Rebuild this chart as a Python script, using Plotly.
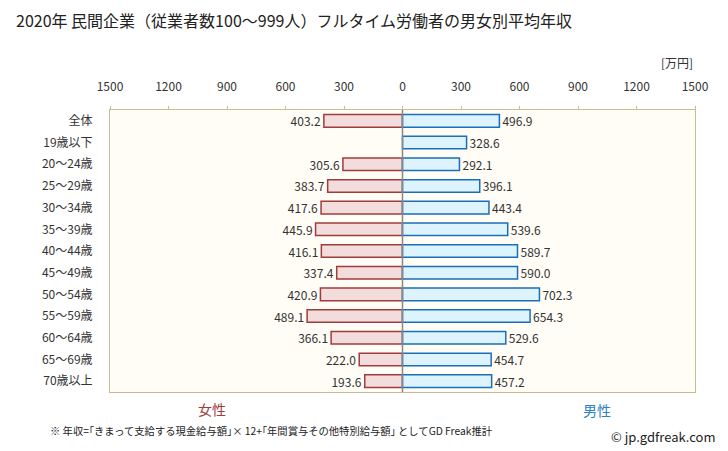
import plotly.graph_objects as go

categories = ["全体", "19歳以下", "20～24歳", "25～29歳", "30～34歳", "35～39歳", "40～44歳",
              "45～49歳", "50～54歳", "55～59歳", "60～64歳", "65～69歳", "70歳以上"]
female = [403.2, None, 305.6, 383.7, 417.6, 445.9, 416.1, 337.4, 420.9, 489.1, 366.1, 222.0, 193.6]
male = [496.9, 328.6, 292.1, 396.1, 443.4, 539.6, 589.7, 590.0, 702.3, 654.3, 529.6, 454.7, 457.2]
tick_values = [-1500, -1200, -900, -600, -300, 0, 300, 600, 900, 1200, 1500]
tick_labels = ["1500", "1200", "900", "600", "300", "0", "300", "600", "900", "1200", "1500"]

font = "Noto Sans CJK JP, sans-serif"
border = "#c8bd92"

fig = go.Figure()
fig.add_trace(go.Bar(
    y=categories, x=[-v if v is not None else None for v in female], orientation="h",
    marker=dict(color="#f2dcdc", line=dict(color="#a03c3c", width=1.5)),
    text=[f"{v:.1f}" if v is not None else "" for v in female],
    textposition="outside", constraintext="none",
    textfont=dict(size=12, color="#333333", family=font),
    cliponaxis=False, showlegend=False, hoverinfo="skip"))
fig.add_trace(go.Bar(
    y=categories, x=male, orientation="h",
    marker=dict(color="#ddf3fd", line=dict(color="#1a6fbb", width=1.5)),
    text=[f"{v:.1f}" for v in male],
    textposition="outside", constraintext="none",
    textfont=dict(size=12, color="#333333", family=font),
    cliponaxis=False, showlegend=False, hoverinfo="skip"))

fig.update_layout(
    width=728, height=451, barmode="overlay", bargap=0.42,
    margin=dict(l=110, r=33, t=110, b=59, autoexpand=False),
    paper_bgcolor="white", plot_bgcolor="#fffdf6",
    font=dict(family=font, size=12, color="#333333"),
    title=dict(text="2020年 民間企業（従業者数100～999人）フルタイム労働者の男女別平均年収",
               x=0.022, y=0.953, xanchor="left", yanchor="middle",
               font=dict(size=16, color="#222222", family=font)),
    xaxis=dict(range=[-1500, 1500], side="top", tickvals=tick_values, ticktext=tick_labels,
               ticks="outside", ticklen=3, tickcolor=border, showgrid=False, zeroline=False,
               showline=True, linecolor=border, linewidth=1, mirror=True, automargin=False,
               ticklabelstandoff=10,
               tickfont=dict(size=12, color="#333333"), fixedrange=True),
    yaxis=dict(autorange="reversed", showgrid=False, ticks="", showline=True, automargin=False,
               linecolor=border, linewidth=1, mirror=True, ticklabelstandoff=14,
               tickfont=dict(size=12, color="#333333")),
    shapes=[dict(type="line", xref="x", yref="paper", x0=0, x1=0, y0=0, y1=1,
                 line=dict(color="#888888", width=1.5))],
    annotations=[
        dict(text="[万円]", xref="paper", yref="paper", x=1.0, y=1.0, yshift=48,
             xanchor="right", yanchor="middle", showarrow=False, font=dict(size=12, color="#333333")),
        dict(text="女性", xref="paper", yref="paper", x=0.174, y=0, yshift=-17,
             xanchor="center", yanchor="middle", showarrow=False, font=dict(size=14, color="#a03c3c")),
        dict(text="男性", xref="paper", yref="paper", x=0.833, y=0, yshift=-18,
             xanchor="center", yanchor="middle", showarrow=False, font=dict(size=14, color="#2a80c8")),
        dict(text="※ 年収=｢きまって支給する現金給与額｣× 12+｢年間賞与その他特別給与額｣ としてGD Freak推計",
             xref="paper", yref="paper", x=-0.106, y=0, yshift=-38,
             xanchor="left", yanchor="middle", showarrow=False, font=dict(size=10.3, color="#222222")),
        dict(text="© jp.gdfreak.com", xref="paper", yref="paper", x=1.04, y=0, yshift=-44,
             xanchor="right", yanchor="middle", showarrow=False, font=dict(size=13, color="#222222")),
    ],
)
fig.write_html("out.html", config={"displayModeBar": False},
               post_script="document.body.style.margin='0';document.body.style.padding='0';")
